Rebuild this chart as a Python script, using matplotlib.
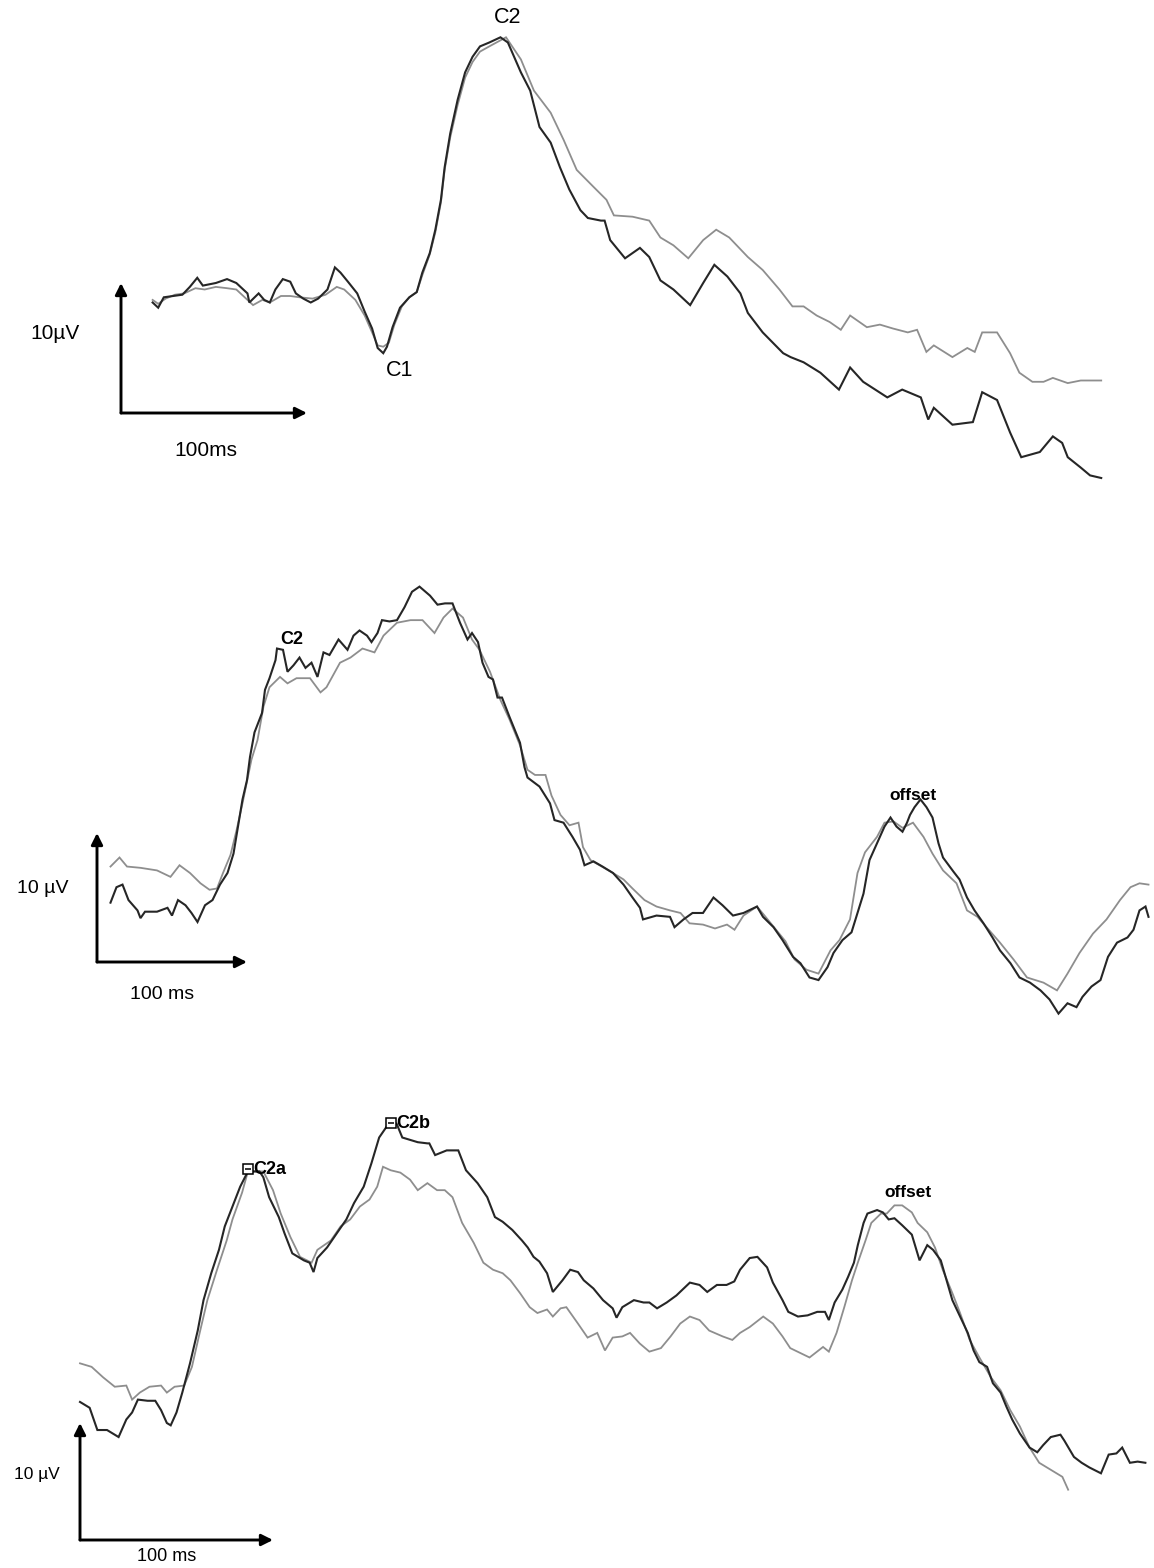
import matplotlib.pyplot as plt

plt.rcParams['font.family'] = ['Liberation Sans', 'DejaVu Sans']

# ---- recorded waveforms: (time in ms, amplitude in µV) ----
# panel 1: C1 / C2 response
p1_dark = [(17, 8.5), (20, 8.1), (23, 8.9), (28, 9.0), (33, 9.1), (37, 9.7), (41, 10.4), (44, 9.8),
           (51, 10.0), (57, 10.3), (62, 10.0), (68, 9.2), (69, 8.5), (74, 9.2), (77, 8.7), (80, 8.5),
           (83, 9.5), (87, 10.3), (91, 10.1), (94, 9.2), (98, 8.8), (102, 8.5), (106, 8.8), (111, 9.5),
           (115, 11.2), (118, 10.8), (122, 10.1), (127, 9.2), (131, 7.8), (135, 6.5), (138, 5.0),
           (141, 4.6), (143, 5.1), (146, 6.6), (150, 8.1), (155, 8.9), (159, 9.3), (162, 10.8),
           (166, 12.3), (169, 14.1), (172, 16.4), (174, 18.9), (177, 21.5), (181, 24.1), (185, 26.2),
           (189, 27.4), (193, 28.2), (198, 28.5), (204, 28.9), (208, 28.5), (215, 26.2), (220, 24.8),
           (225, 22.0), (231, 20.8), (236, 18.9), (241, 17.2), (247, 15.6), (251, 15.0), (258, 14.8),
           (260, 14.8), (263, 13.3), (271, 11.9), (279, 12.7), (284, 12.0), (290, 10.2), (297, 9.5),
           (306, 8.3), (313, 10.0), (319, 11.4), (326, 10.5), (333, 9.2), (337, 7.7), (345, 6.2),
           (356, 4.6), (360, 4.3), (367, 3.9), (376, 3.1), (386, 1.8), (392, 3.5), (399, 2.4),
           (412, 1.2), (420, 1.8), (430, 1.2), (434, -0.5), (437, 0.4), (447, -0.9), (458, -0.7),
           (463, 1.6), (471, 1.0), (478, -1.5), (484, -3.4), (494, -3.0), (501, -1.8), (506, -2.3),
           (509, -3.4), (516, -4.2), (521, -4.8), (527, -5.0)]
p1_grey = [(17, 8.7), (20, 8.4), (24, 8.8), (29, 9.1), (34, 9.2), (40, 9.6), (45, 9.5), (51, 9.7),
           (57, 9.6), (62, 9.5), (68, 8.7), (71, 8.3), (76, 8.7), (80, 8.5), (86, 9.0), (91, 9.0),
           (96, 8.9), (103, 8.8), (110, 9.1), (116, 9.7), (120, 9.5), (126, 8.7), (131, 7.5),
           (135, 6.2), (138, 5.2), (141, 5.1), (144, 5.4), (147, 6.8), (151, 8.2), (155, 8.9),
           (159, 9.3), (162, 10.6), (166, 12.2), (169, 13.9), (172, 16.2), (174, 18.7), (177, 21.2),
           (181, 23.7), (185, 25.8), (189, 27.0), (193, 27.8), (198, 28.2), (207, 28.9), (215, 27.2),
           (222, 24.8), (231, 23.1), (238, 21.0), (245, 18.7), (254, 17.4), (261, 16.4), (265, 15.2),
           (275, 15.1), (284, 14.8), (290, 13.5), (297, 12.9), (305, 11.9), (313, 13.3), (320, 14.1),
           (327, 13.5), (337, 12.0), (345, 11.0), (354, 9.5), (361, 8.2), (367, 8.2), (374, 7.5),
           (381, 7.0), (387, 6.4), (392, 7.5), (401, 6.6), (408, 6.8), (415, 6.5), (423, 6.2),
           (428, 6.4), (433, 4.7), (437, 5.2), (447, 4.3), (455, 5.0), (459, 4.7), (463, 6.2),
           (471, 6.2), (478, 4.6), (483, 3.1), (490, 2.4), (496, 2.4), (501, 2.7), (509, 2.3),
           (516, 2.5), (527, 2.5)]

# panel 2: C2 plateau and offset response
p2_dark = [(9, 4.6), (13, 5.8), (17, 6.0), (21, 4.8), (27, 4.0), (29, 3.4), (32, 3.9), (40, 3.9),
           (47, 4.2), (50, 3.6), (54, 4.8), (59, 4.4), (63, 3.8), (67, 3.1), (72, 4.4), (77, 4.8),
           (82, 6.0), (87, 6.9), (91, 8.4), (94, 10.5), (97, 12.6), (100, 14.1), (102, 15.9),
           (105, 17.8), (110, 19.3), (112, 21.1), (115, 22.0), (119, 23.4), (120, 24.3), (124, 24.2),
           (127, 22.5), (131, 23.0), (135, 23.6), (139, 22.8), (143, 23.2), (147, 22.1), (151, 24.0),
           (155, 23.8), (161, 25.0), (164, 24.6), (167, 24.2), (171, 25.3), (175, 25.7), (180, 25.3),
           (183, 24.8), (187, 25.5), (190, 26.5), (195, 26.4), (200, 26.5), (205, 27.5), (210, 28.7),
           (215, 29.1), (222, 28.4), (227, 27.7), (232, 27.8), (237, 27.8), (242, 26.3), (247, 25.0),
           (250, 25.5), (254, 24.8), (257, 23.2), (261, 22.1), (264, 21.9), (267, 20.5), (270, 20.5),
           (275, 19.0), (282, 17.0), (285, 15.1), (287, 14.3), (295, 13.6), (302, 12.3), (305, 11.0),
           (311, 10.8), (317, 9.7), (322, 8.7), (325, 7.5), (331, 7.8), (337, 7.4), (344, 6.9),
           (351, 6.0), (357, 5.0), (362, 4.2), (364, 3.3), (373, 3.6), (382, 3.5), (385, 2.7),
           (391, 3.3), (397, 3.8), (404, 3.8), (411, 5.0), (417, 4.4), (424, 3.6), (431, 3.8),
           (440, 4.3), (444, 3.5), (451, 2.7), (457, 1.7), (464, 0.4), (469, -0.1), (475, -1.2),
           (481, -1.4), (487, -0.4), (491, 0.7), (497, 1.7), (503, 2.3), (507, 3.8), (511, 5.3),
           (515, 7.9), (520, 9.2), (525, 10.5), (529, 11.2), (533, 10.5), (537, 10.1), (540, 10.8),
           (542, 11.4), (545, 12.0), (549, 12.6), (553, 12.0), (557, 11.2), (561, 9.2), (564, 8.1),
           (571, 7.0), (575, 6.4), (580, 5.0), (585, 4.0), (591, 3.0), (597, 1.9), (602, 0.9),
           (609, -0.1), (615, -1.2), (622, -1.6), (629, -2.2), (635, -2.9), (641, -4.0), (647, -3.2),
           (653, -3.5), (657, -2.7), (663, -1.9), (669, -1.4), (674, 0.4), (680, 1.5), (687, 1.9),
           (691, 2.5), (695, 4.0), (699, 4.3), (701, 3.5)]
p2_grey = [(9, 7.4), (15, 8.1), (20, 7.4), (29, 7.3), (40, 7.1), (49, 6.6), (55, 7.5), (62, 6.9),
           (69, 6.1), (75, 5.6), (80, 5.7), (84, 6.9), (89, 8.3), (93, 10.2), (97, 12.3), (100, 14.0),
           (103, 15.7), (107, 17.2), (111, 19.8), (115, 21.3), (122, 22.1), (127, 21.6), (133, 22.0),
           (142, 22.0), (149, 20.9), (153, 21.3), (162, 23.2), (169, 23.6), (177, 24.3), (185, 24.0),
           (191, 25.3), (200, 26.3), (209, 26.5), (217, 26.5), (225, 25.5), (231, 26.7), (237, 27.4),
           (244, 26.7), (250, 25.0), (255, 24.2), (262, 22.5), (269, 20.3), (275, 18.8), (282, 16.8),
           (287, 14.9), (292, 14.5), (299, 14.5), (303, 12.9), (309, 11.4), (315, 10.6), (321, 10.8),
           (324, 8.9), (329, 7.9), (335, 7.5), (344, 6.9), (351, 6.4), (357, 5.7), (365, 4.8),
           (373, 4.3), (382, 4.0), (389, 3.8), (395, 3.0), (404, 2.9), (412, 2.6), (420, 2.9),
           (425, 2.5), (431, 3.6), (440, 4.3), (445, 3.6), (452, 2.6), (459, 1.6), (465, 0.2),
           (473, -0.6), (481, -0.9), (489, 0.9), (495, 1.7), (502, 3.3), (507, 6.9), (512, 8.5),
           (520, 9.7), (525, 10.8), (531, 10.9), (537, 10.4), (544, 10.8), (551, 9.7), (557, 8.4),
           (564, 7.1), (573, 6.1), (580, 4.0), (587, 3.5), (593, 2.7), (602, 1.5), (611, 0.2),
           (620, -1.2), (631, -1.6), (640, -2.2), (647, -0.9), (655, 0.7), (664, 2.2), (673, 3.3),
           (682, 4.8), (689, 5.8), (695, 6.1), (701, 6.0)]

# panel 3: C2a / C2b peaks and offset response
p3_dark = [(0, 11.8), (5, 11.3), (9, 9.4), (14, 9.4), (18, 9.0), (20, 8.8), (24, 10.3), (27, 10.9),
           (30, 12.0), (35, 11.9), (39, 11.9), (42, 11.1), (45, 10.0), (47, 9.8), (50, 10.9),
           (53, 12.6), (57, 15.1), (61, 17.9), (64, 20.5), (68, 22.8), (72, 24.8), (75, 26.8),
           (79, 28.5), (83, 30.2), (87, 31.5), (93, 31.5), (95, 31.0), (98, 29.3), (103, 27.6),
           (106, 26.2), (110, 24.5), (116, 23.9), (119, 23.7), (121, 22.9), (123, 24.1), (128, 25.0),
           (133, 26.2), (138, 27.4), (142, 28.8), (147, 30.2), (151, 32.2), (155, 34.4), (160, 35.6),
           (164, 35.6), (167, 34.4), (175, 34.0), (180, 33.9), (181, 33.9), (184, 32.9), (190, 33.3),
           (196, 33.3), (200, 31.6), (206, 30.5), (211, 29.3), (215, 27.6), (219, 27.2), (224, 26.5),
           (229, 25.6), (232, 25.0), (235, 24.2), (238, 23.8), (242, 22.8), (245, 21.2), (250, 22.2),
           (254, 23.1), (258, 22.9), (261, 22.2), (266, 21.5), (271, 20.5), (276, 19.8), (278, 19.0),
           (281, 19.9), (287, 20.5), (292, 20.3), (295, 20.3), (299, 19.8), (304, 20.3), (309, 20.9),
           (316, 22.0), (321, 21.8), (325, 21.2), (330, 21.8), (335, 21.8), (339, 22.1), (342, 23.1),
           (347, 24.1), (351, 24.2), (356, 23.3), (359, 22.0), (364, 20.5), (367, 19.5), (372, 19.1),
           (377, 19.2), (382, 19.5), (386, 19.5), (388, 18.8), (391, 20.3), (395, 21.4), (398, 22.5),
           (401, 23.7), (403, 25.2), (406, 27.1), (408, 27.9), (413, 28.2), (416, 28.0), (419, 27.4),
           (422, 27.5), (426, 26.9), (431, 26.1), (435, 23.9), (439, 25.2), (442, 24.8), (446, 23.9),
           (449, 22.2), (452, 20.5), (456, 19.1), (460, 17.7), (463, 16.2), (466, 15.2), (470, 14.8),
           (473, 13.4), (477, 12.6), (480, 11.4), (483, 10.3), (487, 9.1), (492, 7.9), (496, 7.5),
           (499, 8.1), (503, 8.8), (508, 9.0), (510, 8.5), (515, 7.1), (519, 6.6), (523, 6.2),
           (529, 5.7), (533, 7.3), (537, 7.4), (540, 7.9), (544, 6.6), (548, 6.7), (552, 6.6)]
p3_grey = [(0, 15.1), (6, 14.8), (12, 13.9), (18, 13.1), (24, 13.2), (27, 12.0), (31, 12.6), (36, 13.1),
           (42, 13.2), (45, 12.6), (49, 13.1), (54, 13.2), (58, 14.8), (62, 17.7), (66, 20.5),
           (71, 23.1), (76, 25.6), (79, 27.4), (84, 29.7), (87, 31.5), (95, 31.5), (100, 29.9),
           (104, 27.9), (109, 25.9), (114, 24.2), (120, 23.7), (123, 24.8), (130, 25.6), (135, 26.8),
           (140, 27.4), (145, 28.5), (150, 29.1), (154, 30.2), (157, 31.9), (161, 31.6), (166, 31.4),
           (171, 30.8), (175, 29.9), (180, 30.5), (185, 29.9), (189, 29.9), (193, 29.3), (198, 27.1),
           (204, 25.4), (209, 23.7), (214, 23.1), (219, 22.8), (223, 22.2), (228, 21.1), (233, 19.9),
           (237, 19.4), (242, 19.7), (245, 19.1), (249, 19.8), (252, 19.9), (258, 18.5), (263, 17.3),
           (268, 17.7), (272, 16.2), (276, 17.3), (281, 17.4), (285, 17.7), (290, 16.8), (295, 16.1),
           (301, 16.4), (306, 17.4), (311, 18.5), (316, 19.1), (321, 18.8), (326, 17.9), (333, 17.4),
           (338, 17.1), (342, 17.7), (347, 18.2), (354, 19.1), (359, 18.5), (364, 17.4), (368, 16.4),
           (373, 16.0), (378, 15.6), (385, 16.5), (388, 16.1), (392, 17.7), (396, 19.9), (400, 22.2),
           (403, 23.7), (407, 25.6), (410, 27.1), (415, 27.9), (418, 27.9), (422, 28.6), (426, 28.6),
           (431, 28.0), (434, 27.1), (439, 26.3), (443, 25.0), (447, 23.1), (452, 21.1), (456, 19.4),
           (461, 17.1), (466, 15.6), (472, 13.9), (477, 12.8), (482, 11.1), (487, 9.7), (492, 7.9),
           (497, 6.6), (503, 6.0), (509, 5.4), (512, 4.3)]

# annotated peaks (ms, µV)
p1_peaks = {"C1": (150, 3.3), "C2": (208, 30.4)}
p2_peaks = {"C2": (130, 25.0), "offset": (544, 12.9)}
p3_markers = {"C2a": (87, 31.7), "C2b": (161, 35.6)}
p3_offset = (429, 29.7)

SCALE_MS = 100
SCALE_UV = 10

W, H = 1154, 1568
DARK = "#262626"
GREY = "#8e8e8e"


def panel_axes(fig, x0, y0, px_ms, px_uv):
    # full-figure transparent axes, scaled so that the scale bar corner sits at (0, 0)
    ax = fig.add_axes([0, 0, 1, 1])
    ax.set_xlim(-x0 / px_ms, (W - x0) / px_ms)
    ax.set_ylim((y0 - H) / px_uv, y0 / px_uv)
    ax.set_facecolor("none")
    ax.axis("off")
    return ax


def draw_traces(ax, grey, dark):
    for trace, color, lw in ((grey, GREY, 1.3), (dark, DARK, 1.5)):
        t, v = zip(*trace)
        ax.plot(t, v, color=color, lw=lw, solid_joinstyle="miter")


def scale_bar(ax):
    props = dict(arrowstyle="-|>", color="black", lw=2.1, mutation_scale=17,
                 shrinkA=0, shrinkB=0)
    ax.annotate("", xy=(0, SCALE_UV), xytext=(0, 0), arrowprops=props)
    ax.annotate("", xy=(SCALE_MS, 0), xytext=(0, 0), arrowprops=props)


fig = plt.figure(figsize=(W / 100, H / 100), dpi=100)
fig.patch.set_facecolor("white")

# panel 1
ax1 = panel_axes(fig, 121, 413, 1.86, 13.0)
draw_traces(ax1, p1_grey, p1_dark)
scale_bar(ax1)
ax1.text(*p1_peaks["C2"], "C2", ha="center", va="center", fontsize=15.5)
ax1.text(*p1_peaks["C1"], "C1", ha="center", va="center", fontsize=15.5)
ax1.text(-35.5, 6.15, "10µV", ha="center", va="center", fontsize=15)
ax1.text(45.7, -2.9, "100ms", ha="center", va="center", fontsize=15)

# panel 2
ax2 = panel_axes(fig, 97, 962, 1.50, 12.9)
draw_traces(ax2, p2_grey, p2_dark)
scale_bar(ax2)
ax2.text(*p2_peaks["C2"], "C2", ha="center", va="center", fontsize=13, fontweight="bold")
ax2.text(*p2_peaks["offset"], "offset", ha="center", va="center", fontsize=12.5, fontweight="bold")
ax2.text(-36, 5.7, "10 µV", ha="center", va="center", fontsize=14)
ax2.text(43.3, -2.5, "100 ms", ha="center", va="center", fontsize=14)

# panel 3
ax3 = panel_axes(fig, 80, 1540, 1.93, 11.7)
draw_traces(ax3, p3_grey, p3_dark)
scale_bar(ax3)
for name, (t, v) in p3_markers.items():
    ax3.plot(t, v, marker="s", ms=6.5, mfc="white", mec="black", mew=1.1)
    ax3.plot(t, v, marker="_", ms=4.5, mec="black", mew=1.1)
    ax3.text(t + 3.0, v, name, ha="left", va="center", fontsize=13, fontweight="bold")
ax3.text(*p3_offset, "offset", ha="center", va="center", fontsize=12.5, fontweight="bold")
ax3.text(-22.3, 5.6, "10 µV", ha="center", va="center", fontsize=12.5)
ax3.text(45, -1.4, "100 ms", ha="center", va="center", fontsize=13)

fig.savefig("out.png", dpi=100, facecolor="white")
